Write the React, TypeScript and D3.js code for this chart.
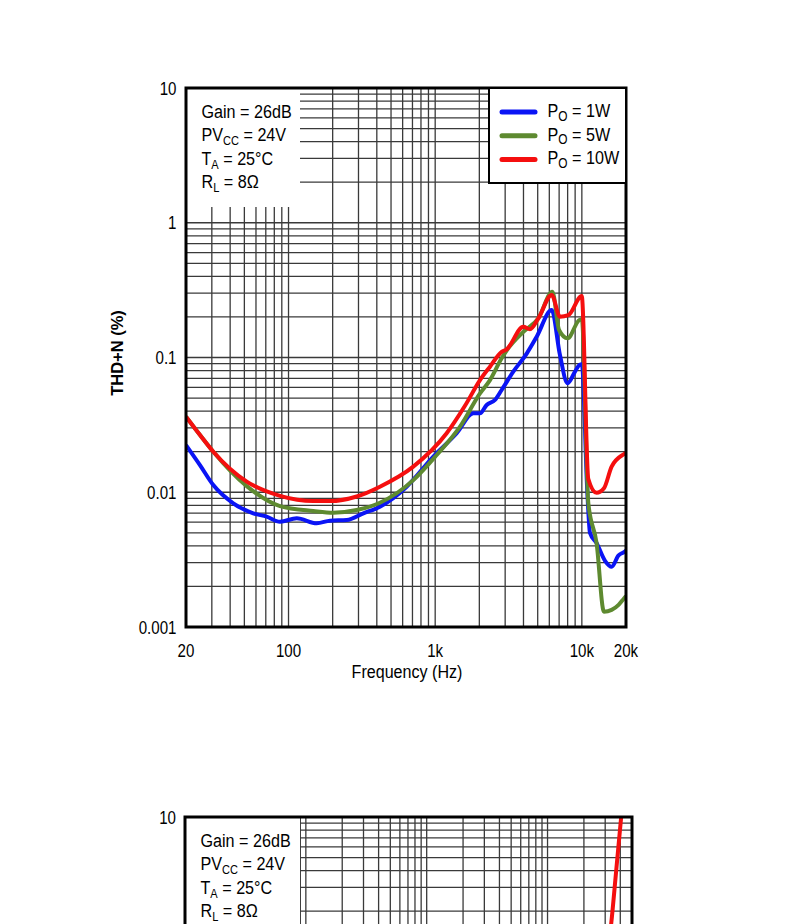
import React from 'react';
import * as d3 from 'd3';

// ---------- Data (chart 1: THD+N vs Frequency) ----------
const freq1W = [20, 24.9, 30.7, 42, 57.5, 70.9, 87.5, 113.8, 155.7, 191.8, 249.4, 323.6, 420, 639, 971, 1402, 1820, 2021, 2244, 2557, 2839, 3408, 4208, 4921, 6230, 7090, 7990, 8980, 9620, 10000, 10900, 11360, 12600, 14390, 15960, 17800, 19370, 20000];
const thd1W = [0.0224, 0.0159, 0.0113, 0.00828, 0.00698, 0.00659, 0.00604, 0.00641, 0.00589, 0.00615, 0.00622, 0.00698, 0.00782, 0.011, 0.0184, 0.0274, 0.0385, 0.0385, 0.0444, 0.0484, 0.0574, 0.0785, 0.107, 0.1426, 0.225, 0.1045, 0.0643, 0.0785, 0.088, 0.089, 0.010, 0.005, 0.0042, 0.0031, 0.0028, 0.0034, 0.0036, 0.0037];

const freq5W = [20, 25, 30.7, 51.9, 87.5, 147.5, 202, 291.6, 420, 709, 1024, 1477, 2021, 2364, 2839, 3075, 3990, 5050, 6300, 6990, 7990, 9620, 10000, 11070, 12600, 14150, 15960, 17800, 19370, 20000];
const thd5W = [0.0364, 0.0265, 0.02, 0.0111, 0.0079, 0.00726, 0.00705, 0.00738, 0.00836, 0.0123, 0.0189, 0.0307, 0.0542, 0.068, 0.0986, 0.113, 0.155, 0.195, 0.308, 0.16, 0.139, 0.19, 0.192, 0.0083, 0.0042, 0.0013, 0.00134, 0.00146, 0.00163, 0.0017];

const freq10W = [20, 25, 30.7, 51.9, 87.5, 147.5, 191.8, 291.6, 420, 709, 1197, 1600, 2021, 2364, 2839, 3075, 3990, 4430, 5050, 6230, 7090, 8090, 9980, 11070, 12600, 14150, 15960, 19370, 20000];
const thd10W = [0.0364, 0.0265, 0.02, 0.012, 0.0094, 0.0086, 0.0086, 0.0093, 0.011, 0.0155, 0.0274, 0.044, 0.068, 0.0855, 0.11, 0.115, 0.169, 0.162, 0.195, 0.291, 0.201, 0.206, 0.286, 0.0125, 0.0099, 0.0107, 0.0155, 0.0192, 0.0196];

// ---------- Data (chart 2: THD+N vs Output Power, only top part visible) ----------
const power2 = [31.5, 33.6, 37, 40.6, 41.5];
const thd2 = [1.0, 1.6, 4.0, 9.8, 12];

// ---------- Ticks / labels ----------
const xTickValues = [20, 100, 1000, 10000, 20000];
const xTickLabels = ['20', '100', '1k', '10k', '20k'];
const yTickValues = [0.001, 0.01, 0.1, 1, 10];
const yTickLabels = ['0.001', '0.01', '0.1', '1', '10'];
const legendLabels = ['1W', '5W', '10W'];
const seriesColors = ['#0a14f5', '#5e8a30', '#f50f0f'];

const FONT = "'Liberation Sans', Arial, Helvetica, sans-serif";
const GRID = '#3a3a3a';
const PAGE_H = 924;

function Txt({ x, y, size, sx = 0.85, anchor = 'start', weight = 'normal', children }: any) {
  return (
    <text
      transform={`translate(${x},${y}) scale(${sx},1)`}
      fontSize={size}
      textAnchor={anchor}
      fontFamily={FONT}
      fontWeight={weight}
      fill="#000"
    >
      {children}
    </text>
  );
}

function Annot({ left, top }: { left: number; top: number }) {
  const x = left + 15.5;
  return (
    <g>
      <Txt x={x} y={top + 30} size={19}>Gain = 26dB</Txt>
      <Txt x={x} y={top + 53} size={19}>
        PV<tspan fontSize={13} dy={4}>CC</tspan>
        <tspan dy={-4}> = 24V</tspan>
      </Txt>
      <Txt x={x} y={top + 77} size={19}>
        T<tspan fontSize={13} dy={4}>A</tspan>
        <tspan dy={-4}> = 25°C</tspan>
      </Txt>
      <Txt x={x} y={top + 100} size={19}>
        R<tspan fontSize={13} dy={4}>L</tspan>
        <tspan dy={-4}> = 8Ω</tspan>
      </Txt>
    </g>
  );
}

export default function App() {
  // chart 1 scales
  const x1 = d3.scaleLog().domain([20, 20000]).range([186, 626]);
  const y1 = d3.scaleLog().domain([0.001, 10]).range([627, 88]);
  // chart 2 scales
  const x2 = d3.scaleLog().domain([0.01, 50]).range([185, 632]);
  const y2 = d3.scaleLog().domain([0.001, 10]).range([1356, 817]);

  const xGrid1 = x1.ticks().filter((v) => v > 20 && v < 20000);
  const yGrid = y1.ticks().filter((v) => v > 0.001 && v < 10);
  const xGrid2 = x2.ticks().filter((v) => v > 0.01 && v < 50);

  const line1 = (fs: number[], vs: number[]) =>
    d3
      .line<number>()
      .x((_, i) => x1(fs[i]))
      .y((v) => y1(v))
      .curve(d3.curveMonotoneX)(vs) || '';

  const line2 =
    d3
      .line<number>()
      .x((_, i) => x2(power2[i]))
      .y((v) => y2(v))
      .curve(d3.curveMonotoneX)(thd2) || '';

  const series = [
    { f: freq1W, v: thd1W },
    { f: freq5W, v: thd5W },
    { f: freq10W, v: thd10W },
  ];

  const [L1, R1, T1, B1] = [186, 626, 88, 627];
  const [L2, R2, T2, B2] = [185, 632, 817, 1356];

  return (
    <svg
      width={800}
      height={PAGE_H}
      style={{ position: 'absolute', left: 0, top: 0, background: '#fff' }}
    >
      <defs>
        <clipPath id="clip1">
          <rect x={L1} y={T1} width={R1 - L1} height={B1 - T1} />
        </clipPath>
        <clipPath id="clip2">
          <rect x={L2} y={T2} width={R2 - L2} height={PAGE_H - T2} />
        </clipPath>
      </defs>
      <rect x={0} y={0} width={800} height={PAGE_H} fill="#fff" />

      {/* ================= Chart 1 ================= */}
      <g>
        {xGrid1.map((v) => (
          <line key={'vx' + v} x1={x1(v)} x2={x1(v)} y1={T1} y2={B1} stroke={GRID} strokeWidth={1.3} />
        ))}
        {yGrid.map((v) => (
          <line key={'hy' + v} x1={L1} x2={R1} y1={y1(v)} y2={y1(v)} stroke={GRID} strokeWidth={1.3} />
        ))}
        {/* annotation white box */}
        <rect x={L1} y={T1} width={114} height={119} fill="#fff" />
        <g clipPath="url(#clip1)">
          {series.map((s, i) => (
            <path key={i} d={line1(s.f, s.v)} fill="none" stroke={seriesColors[i]} strokeWidth={4} strokeLinejoin="round" />
          ))}
        </g>
        <rect x={L1} y={T1} width={R1 - L1} height={B1 - T1} fill="none" stroke="#000" strokeWidth={3} />
        {/* legend */}
        <rect x={489} y={T1} width={R1 - 489} height={95} fill="#fff" stroke="#000" strokeWidth={2} />
        {legendLabels.map((lab, i) => {
          const ly = 112 + i * 23.7;
          return (
            <g key={lab}>
              <line x1={502} x2={535} y1={ly} y2={ly} stroke={seriesColors[i]} strokeWidth={5} strokeLinecap="round" />
              <Txt x={547.5} y={ly + 5} size={19}>
                P<tspan fontSize={14} dy={3.5}>O</tspan>
                <tspan dy={-3.5}> = {lab}</tspan>
              </Txt>
            </g>
          );
        })}
        <Annot left={L1} top={T1} />
        {/* y tick labels */}
        {yTickValues.map((v, i) => (
          <Txt key={'yl' + v} x={176.5} y={y1(v) + 6.5} size={18} sx={0.84} anchor="end">
            {yTickLabels[i]}
          </Txt>
        ))}
        {/* x tick labels */}
        {xTickValues.map((v, i) => (
          <Txt key={'xl' + v} x={x1(v)} y={657} size={18} sx={0.84} anchor="middle">
            {xTickLabels[i]}
          </Txt>
        ))}
        <Txt x={407} y={678} size={18.5} sx={0.87} anchor="middle">Frequency (Hz)</Txt>
        <text
          transform={`translate(123,353) rotate(-90)`}
          fontSize={16.5}
          fontWeight="bold"
          textAnchor="middle"
          fontFamily={FONT}
          fill="#000"
        >
          THD+N (%)
        </text>
      </g>

      {/* ================= Chart 2 (partially visible) ================= */}
      <g>
        {xGrid2.map((v) => (
          <line key={'vx2' + v} x1={x2(v)} x2={x2(v)} y1={T2} y2={PAGE_H} stroke={GRID} strokeWidth={1.3} />
        ))}
        {yGrid
          .filter((v) => y2(v) < PAGE_H)
          .map((v) => (
            <line key={'hy2' + v} x1={L2} x2={R2} y1={y2(v)} y2={y2(v)} stroke={GRID} strokeWidth={1.3} />
          ))}
        <rect x={L2} y={T2} width={115} height={PAGE_H - T2} fill="#fff" />
        <g clipPath="url(#clip2)">
          <path d={line2} fill="none" stroke={seriesColors[2]} strokeWidth={4} />
        </g>
        <path
          d={`M${L2},${PAGE_H + 2} L${L2},${T2} L${R2},${T2} L${R2},${PAGE_H + 2}`}
          fill="none"
          stroke="#000"
          strokeWidth={3}
        />
        <Annot left={L2} top={T2} />
        {yTickValues
          .map((v, i) => ({ v, lab: yTickLabels[i] }))
          .filter((d) => y2(d.v) + 8 < PAGE_H)
          .map((d) => (
            <Txt key={'yl2' + d.v} x={176} y={y2(d.v) + 6.5} size={18} sx={0.84} anchor="end">
              {d.lab}
            </Txt>
          ))}
      </g>
    </svg>
  );
}
